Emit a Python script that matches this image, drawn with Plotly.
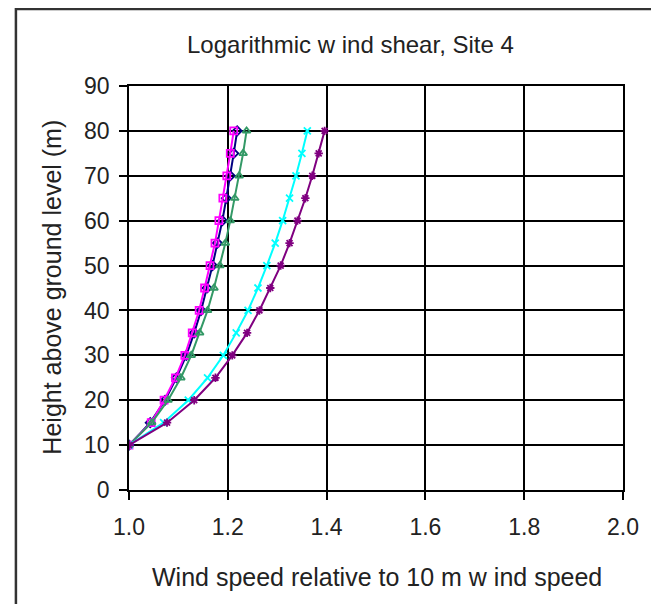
import plotly.graph_objects as go

heights = [10, 15, 20, 25, 30, 35, 40, 45, 50, 55, 60, 65, 70, 75, 80]

navy_vals = [1.000, 1.043, 1.073, 1.096, 1.116, 1.132, 1.146, 1.158, 1.169, 1.179, 1.189, 1.197, 1.205, 1.212, 1.219]
magenta_vals = [1.000, 1.045, 1.071, 1.094, 1.113, 1.128, 1.142, 1.153, 1.164, 1.174, 1.182, 1.190, 1.198, 1.205, 1.212]
green_vals = [1.000, 1.046, 1.079, 1.105, 1.126, 1.143, 1.159, 1.172, 1.184, 1.195, 1.205, 1.214, 1.223, 1.231, 1.238]
cyan_vals = [1.000, 1.070, 1.120, 1.159, 1.191, 1.217, 1.241, 1.261, 1.279, 1.296, 1.311, 1.325, 1.338, 1.350, 1.361]
purple_vals = [1.000, 1.077, 1.132, 1.175, 1.209, 1.239, 1.264, 1.286, 1.307, 1.325, 1.341, 1.357, 1.371, 1.384, 1.396]

x_ticks = [1.0, 1.2, 1.4, 1.6, 1.8, 2.0]
y_ticks = [0, 10, 20, 30, 40, 50, 60, 70, 80, 90]

title_text = "Logarithmic w ind shear, Site 4"
x_title = "Wind speed relative to 10 m w ind speed"
y_title = "Height above ground level (m)"

FONT = "Liberation Sans, Arial, sans-serif"
TXT = "#222222"

series = [
    ("navy", navy_vals, "#000080", "diamond-open"),
    ("magenta", magenta_vals, "#FF00FF", "square-open"),
    ("green", green_vals, "#339966", "triangle-up-open"),
    ("cyan", cyan_vals, "#00FFFF", "x-thin-open"),
    ("purple", purple_vals, "#800080", "asterisk-open"),
]

fig = go.Figure()
for name, vals, col, sym in series:
    fig.add_trace(go.Scatter(
        x=vals, y=heights, mode="lines+markers", name=name,
        line=dict(color=col, width=2),
        marker=dict(symbol=sym, size=7, color=col, line=dict(color=col, width=1.8)),
        showlegend=False,
    ))

# page has an 8px body margin; figure is sized to fit the 659x612 window
OFF = 8
W, H = 643, 596
L, R, T, B = 121, 24, 78, 114
pw, ph = W - L - R, H - T - B

def px_x(p):  # page pixel -> paper coord
    return (p - OFF - L) / pw

def px_y(p):
    return 1 - (p - OFF - T) / ph

fig.update_layout(
    width=W, height=H,
    margin=dict(l=L, r=R, t=T, b=B),
    paper_bgcolor="white", plot_bgcolor="white",
    font=dict(family=FONT, color=TXT),
    xaxis=dict(
        range=[1.0, 2.0], tickvals=x_ticks, ticktext=[f"{v:.1f}" for v in x_ticks],
        showgrid=True, gridcolor="black", gridwidth=1.6,
        showline=True, linecolor="black", linewidth=1.6, mirror=True,
        ticks="outside", ticklen=8, tickcolor="black", tickwidth=1.6,
        tickfont=dict(size=23, family=FONT, color=TXT),
        ticklabelstandoff=8,
        zeroline=False,
    ),
    yaxis=dict(
        range=[0, 90], tickvals=y_ticks,
        showgrid=True, gridcolor="black", gridwidth=1.6,
        showline=True, linecolor="black", linewidth=1.6, mirror=True,
        ticks="outside", ticklen=8, tickcolor="black", tickwidth=1.6,
        tickfont=dict(size=23, family=FONT, color=TXT),
        ticklabelstandoff=5,
        zeroline=False,
    ),
    annotations=[
        dict(text=title_text, xref="paper", yref="paper",
             x=px_x(352), y=px_y(45), xanchor="center", yanchor="middle",
             showarrow=False, font=dict(size=24, family=FONT, color=TXT)),
        dict(text=x_title, xref="paper", yref="paper",
             x=px_x(379), y=px_y(577), xanchor="center", yanchor="middle",
             showarrow=False, font=dict(size=25, family=FONT, color=TXT)),
        dict(text=y_title, xref="paper", yref="paper", textangle=-90,
             x=px_x(51), y=px_y(287), xanchor="center", yanchor="middle",
             showarrow=False, font=dict(size=25, family=FONT, color=TXT)),
    ],
    shapes=[dict(
        type="rect", xref="paper", yref="paper",
        x0=px_x(15), x1=px_x(700), y0=px_y(640), y1=px_y(9),
        line=dict(color="#333333", width=2.5), fillcolor="rgba(0,0,0,0)",
        layer="below",
    )],
)

fig.write_html("out.html")
